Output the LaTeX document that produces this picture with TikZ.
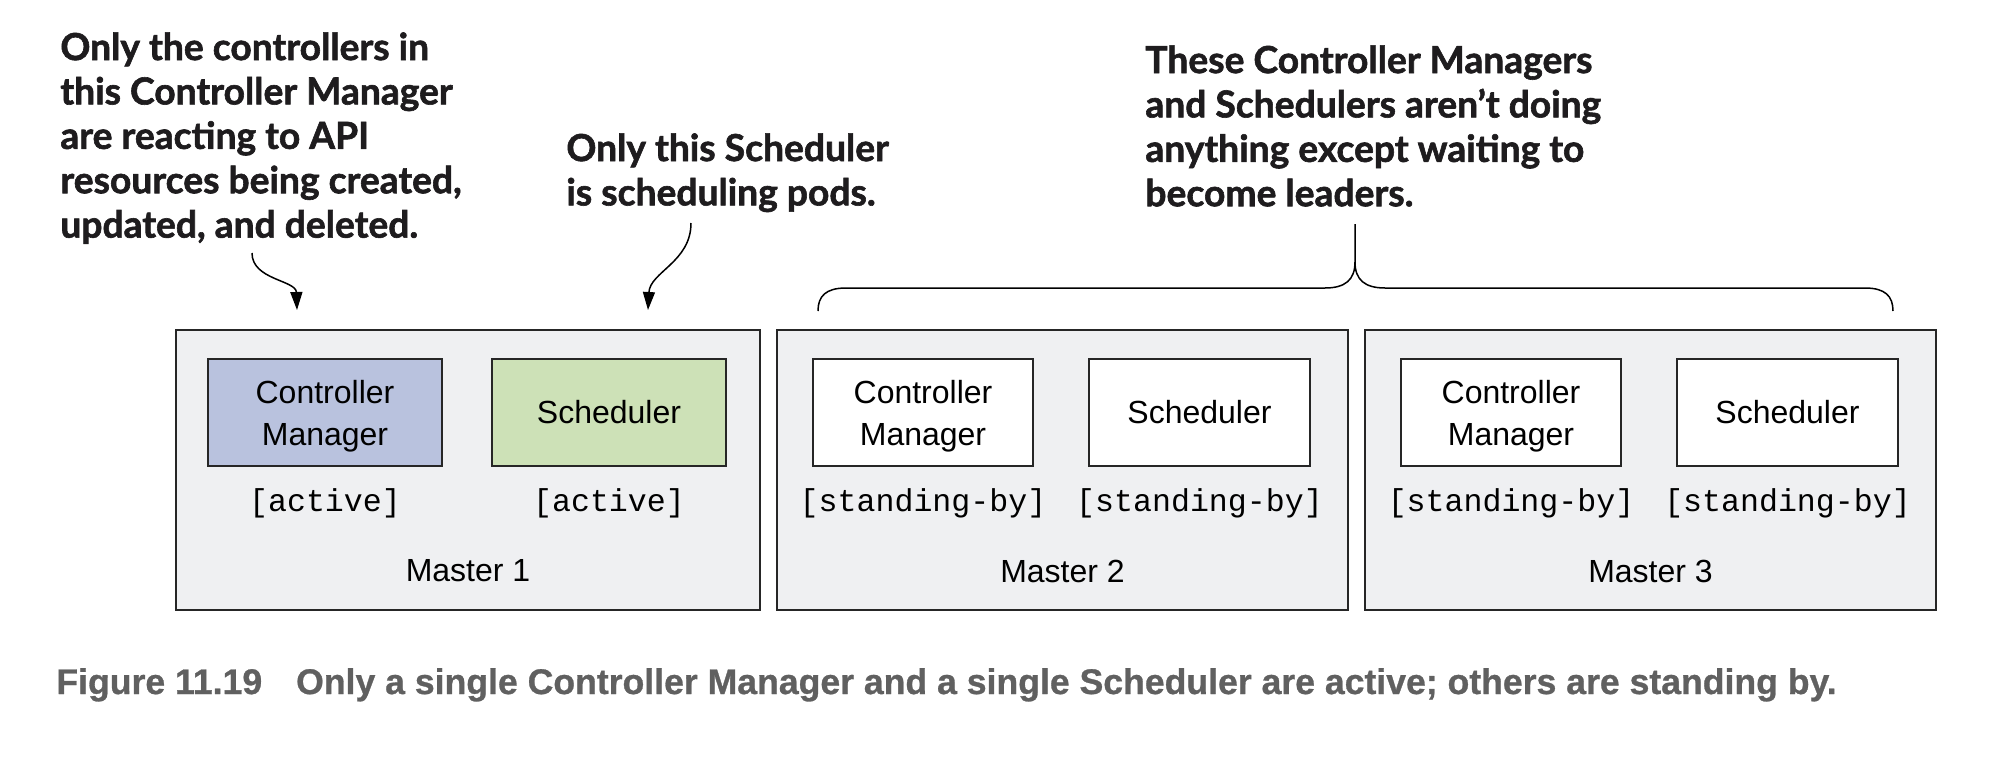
\documentclass[tikz,border=0pt]{standalone}
\usepackage{fontspec}
\setmainfont{Liberation Sans}
\setmonofont{Liberation Mono}
\newfontfamily\annotfont[FakeBold=1.6]{Lato}
\newfontfamily\capfont[FakeBold=0.8]{Liberation Sans}
\usetikzlibrary{arrows.meta}
\definecolor{mastergray}{RGB}{239,240,242}
\definecolor{cmblue}{RGB}{185,194,222}
\definecolor{schgreen}{RGB}{205,225,183}
\definecolor{capgray}{RGB}{96,96,96}
\definecolor{annotblack}{RGB}{30,28,30}
\tikzset{
  masterbox/.style={draw=black!85, line width=1pt, fill=mastergray, inner sep=0pt, minimum height=140pt},
  compbox/.style={draw=black!85, line width=1pt, fill=white, inner sep=0pt, minimum height=53.5pt, align=center,
    font=\fontsize{16}{21}\selectfont},
  cmbox/.style={compbox, label={[yshift=-2pt, inner sep=0pt, align=center, font=\fontsize{16}{21}\selectfont]center:Controller\\Manager}},
  status/.style={font=\ttfamily\fontsize{15.8}{18}\selectfont, inner sep=0pt},
  mlabel/.style={font=\fontsize{16}{20}\selectfont, inner sep=0pt},
  annot/.style={font=\annotfont\bfseries\fontsize{18.6}{22.2}\selectfont, text=annotblack, align=left, inner sep=0pt, anchor=north west},
  callout/.style={line width=0.75pt, -{Triangle[length=9pt,width=6pt]}},
  bracepath/.style={line width=0.75pt}
}
\begin{document}
\begin{tikzpicture}[x=0.5pt,y=-0.5pt]
\useasboundingbox (0,0) rectangle (2004,776);
% masters
\node[masterbox, minimum width=292pt] (m1) at (468,470) {};
\node[masterbox, minimum width=285.5pt] (m2) at (1062.5,470) {};
\node[masterbox, minimum width=285.5pt] (m3) at (1650.5,470) {};
% components
\node[cmbox, fill=cmblue, minimum width=117pt] (cm1) at (325,412.5) {};
\node[compbox, fill=schgreen, minimum width=117pt] (s1) at (609,412.5) {Scheduler};
\node[cmbox, minimum width=110pt] (cm2) at (923,412.5) {};
\node[compbox, minimum width=110.5pt] (s2) at (1199.5,412.5) {Scheduler};
\node[cmbox, minimum width=110pt] (cm3) at (1511,412.5) {};
\node[compbox, minimum width=110.5pt] (s3) at (1787.5,412.5) {Scheduler};
% statuses
\node[status] (st1) at (325,503) {[active]};
\node[status] (st2) at (609,503) {[active]};
\node[status] (st3) at (923,503) {[standing-by]};
\node[status] (st4) at (1199.5,503) {[standing-by]};
\node[status] (st5) at (1511,503) {[standing-by]};
\node[status] (st6) at (1787.5,503) {[standing-by]};
% master labels
\node[mlabel] (ml1) at (468,571) {Master 1};
\node[mlabel] (ml2) at (1062.5,571) {Master 2};
\node[mlabel] (ml3) at (1650.5,571) {Master 3};
% annotations
\node[annot] (an1) at (60,32) {Only the controllers in\\this Controller Manager\\are reacting to API\\resources being created,\\updated, and deleted.};
\node[annot] (an2) at (566,133) {Only this Scheduler\\is scheduling pods.};
\node[annot] (an3) at (1145,45) {These Controller Managers\\and Schedulers aren’t doing\\anything except waiting to\\become leaders.};
% callout arrows
\coordinate (a1s) at (252,253);
\coordinate (a1e) at (297,310);
\coordinate (a2s) at (691,223);
\coordinate (a2e) at (648,310);
\draw[callout] (a1s) .. controls (252,280) and (296,280) .. (a1e);
\draw[callout] (a2s) .. controls (691,262) and (650,272) .. (a2e);
% brace
\coordinate (bl) at (818,311);
\coordinate (br) at (1893,311);
\coordinate (bt) at (1355,224);
\draw[bracepath] (bl) .. controls (818,296) and (826,288) .. (846,288) -- (1325,288) .. controls (1345,288) and (1355,280) .. (1355,262) -- (bt);
\draw[bracepath] (1355,262) .. controls (1355,280) and (1365,288) .. (1385,288) -- (1865,288) .. controls (1885,288) and (1893,296) .. (br);
% caption
\node[anchor=base west, inner sep=0pt, text=capgray, font=\capfont\bfseries\fontsize{17.8}{20}\selectfont] (cap) at (56,694) {Figure 11.19\hspace{17pt}Only a single Controller Manager and a single Scheduler are active; others are standing by.};
\end{tikzpicture}
\end{document}
